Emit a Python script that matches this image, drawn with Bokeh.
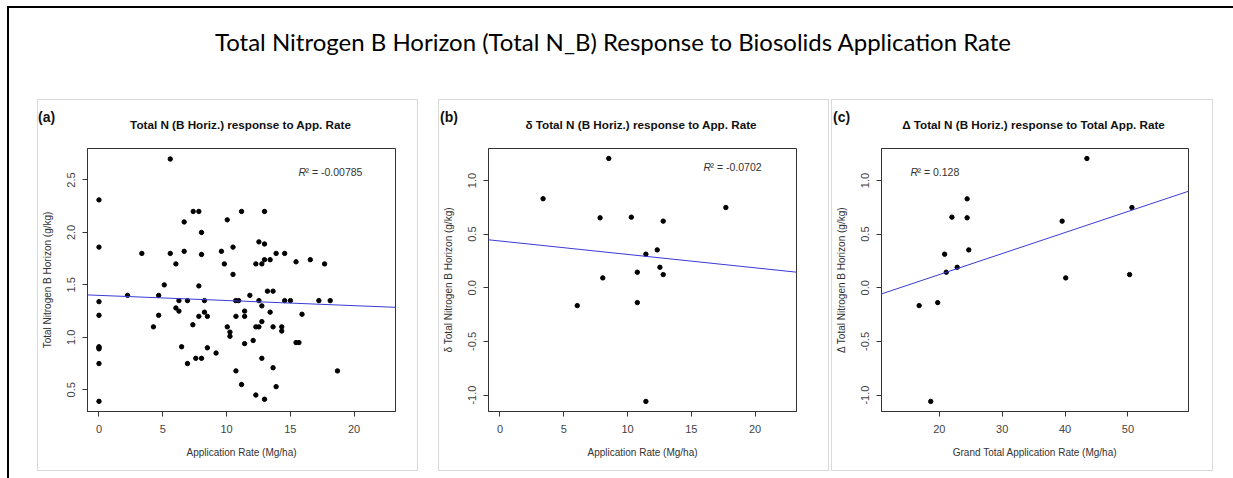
from bokeh.plotting import figure
from bokeh.models import (Range1d, FixedTicker, PrintfTickFormatter, Slope, Label,
                          Div, Spacer)
from bokeh.layouts import row, column
from bokeh.embed import file_html
from bokeh.resources import INLINE

# ---------------- data ----------------
main_title = "Total Nitrogen B Horizon (Total N_B) Response to Biosolids Application Rate"

# panel (a): Total N (B horizon) vs application rate
a_rate = [0, 0, 0, 0, 0, 0, 0, 0, 0,
          2.24, 3.36, 4.27, 4.68, 4.68, 5.12, 5.59, 5.59, 6.03, 6.03, 6.27, 6.27, 6.48,
          6.68, 6.68, 6.94, 6.94, 7.36, 7.39, 7.59, 7.83, 7.83, 7.83, 8.04, 8.04, 8.04,
          8.27, 8.27, 8.50, 8.50, 9.18, 9.60, 9.83, 10.06, 10.06, 10.27, 10.27, 10.51,
          10.51, 10.72, 10.74, 10.74, 10.95, 11.18, 11.18, 11.42, 11.42, 11.42, 11.83,
          12.09, 12.30, 12.30, 12.30, 12.54, 12.54, 12.54, 12.77, 12.77, 12.77, 12.77,
          12.98, 12.98, 12.98, 12.98, 13.21, 13.42, 13.42, 13.65, 13.65, 13.65, 13.89,
          13.89, 14.33, 14.33, 14.56, 14.56, 15.01, 15.45, 15.45, 15.68, 15.92, 16.57,
          17.24, 17.69, 18.13, 18.70]
a_totn = [2.31, 1.86, 1.34, 1.21, 0.91, 0.90, 0.89, 0.75, 0.39,
          1.40, 1.80, 1.10, 1.40, 1.21, 1.50, 2.70, 1.80, 1.70, 1.28, 1.25, 1.35, 0.91,
          2.10, 1.82, 1.35, 0.75, 1.12, 2.20, 0.80, 2.20, 1.49, 1.20, 2.00, 1.79, 0.80,
          1.35, 1.24, 1.20, 0.90, 0.85, 1.82, 1.70, 2.12, 1.10, 1.05, 1.01, 1.86,
          1.60, 1.35, 1.20, 0.68, 1.35, 2.20, 0.55, 1.25, 1.20, 0.94, 1.40,
          0.97, 1.70, 1.10, 0.45, 1.91, 1.35, 1.10, 1.70, 1.30, 1.15, 0.80,
          2.20, 1.89, 1.74, 0.41, 1.44, 1.74, 1.24, 1.44, 1.10, 0.71, 1.80,
          0.53, 1.10, 1.06, 1.80, 1.35, 1.35, 1.72, 0.95, 0.95, 1.22, 1.74,
          1.35, 1.70, 1.35, 0.68]

# panel (b): delta Total N vs application rate
b_rate = [3.38, 8.53, 7.85, 10.30, 12.80, 17.71, 12.33, 11.44, 12.54, 10.77, 12.80,
          8.06, 6.06, 10.77, 11.44]
b_dtotn = [0.83, 1.205, 0.652, 0.658, 0.621, 0.748, 0.353, 0.313, 0.191, 0.145, 0.123,
           0.092, -0.166, -0.138, -1.059]

# panel (c): Delta Total N vs grand total application rate
c_total = [43.47, 24.42, 22.00, 24.42, 50.63, 39.53, 24.68, 20.84, 22.84, 21.10, 50.26,
           40.10, 16.79, 19.74, 18.63]
c_dtotn = [1.205, 0.829, 0.658, 0.652, 0.748, 0.621, 0.353, 0.313, 0.191, 0.145, 0.123,
           0.092, -0.166, -0.138, -1.059]

# fitted lines (intercept, slope) and R^2 text
fit_a = (1.40, -0.0049)
fit_b = (0.436, -0.0125)
fit_c = (-0.269, 0.0196)
r2_a = "-0.00785"
r2_b = "-0.0702"
r2_c = "0.128"

ticks_rate = [0, 5, 10, 15, 20]
ticks_total = [20, 30, 40, 50]
ticks_a_y = [0.5, 1.0, 1.5, 2.0, 2.5]
ticks_d_y = [-1.0, -0.5, 0.0, 0.5, 1.0]

FONT = "Liberation Sans"
PANEL_H = 372      # grey panel box height
HEAD_H = 46        # panel header (tag + title), inside 1px grey border
FIG_H = PANEL_H - HEAD_H - 2
TOP, BOTTOM = 2, 59

G = "linear-gradient(#d9d9d9,#d9d9d9)"
BOX_BG = ("%s left top / 1px 100%% no-repeat, %s right top / 1px 100%% no-repeat, "
          "%s left top / 100%% 1px no-repeat, %s left bottom / 100%% 1px no-repeat, #ffffff"
          % (G, G, G, G))


def make_panel(width, left, right, xs, ys, xr, yr, xticks, yticks, xlabel, ylabel,
               title, tag, tag_left, r2, r2_x, r2_y, fit):
    p = figure(width=width - 2, height=FIG_H, x_range=Range1d(*xr), y_range=Range1d(*yr),
               output_backend="svg", toolbar_location=None, title=None,
               min_border_left=left - 1, min_border_right=right - 1,
               min_border_top=TOP, min_border_bottom=BOTTOM, margin=(0, 1, 1, 1))
    p.outline_line_color = "#333333"
    p.outline_line_width = 1
    p.grid.visible = False
    p.background_fill_color = "white"
    p.border_fill_color = "white"

    p.xaxis.ticker = FixedTicker(ticks=xticks)
    p.yaxis.ticker = FixedTicker(ticks=yticks)
    p.yaxis.formatter = PrintfTickFormatter(format="%.1f")
    p.xaxis.axis_label = xlabel
    p.yaxis.axis_label = ylabel
    for ax in list(p.xaxis) + list(p.yaxis):
        ax.major_tick_out = 5
        ax.major_tick_in = 0
        ax.minor_tick_out = 0
        ax.minor_tick_in = 0
        ax.axis_line_color = "#333333"
        ax.major_tick_line_color = "#333333"
        ax.major_label_text_font = FONT
        ax.major_label_text_font_size = "11px"
        ax.major_label_text_color = "#444444"
        ax.axis_label_text_font = FONT
        ax.axis_label_text_font_size = "10px"
        ax.axis_label_text_font_style = "normal"
        ax.axis_label_text_color = "#333333"
    p.xaxis.major_label_standoff = 8
    p.xaxis.axis_label_standoff = 11
    p.yaxis.major_label_standoff = 7
    p.yaxis.axis_label_standoff = 12
    p.yaxis.major_label_orientation = "vertical"

    p.scatter(xs, ys, size=4.4, color="black")
    p.add_layout(Slope(gradient=fit[1], y_intercept=fit[0], line_color="#3a3ad6",
                       line_width=1))

    p.add_layout(Label(x=r2_x, y=r2_y, x_units="screen", y_units="screen",
                       text="R", text_align="left", text_baseline="middle",
                       text_font=FONT, text_font_size="10.5px", text_font_style="italic",
                       text_color="#333333"))
    p.add_layout(Label(x=r2_x + 7, y=r2_y, x_units="screen", y_units="screen",
                       text="\u00b2 = " + r2, text_align="left", text_baseline="middle",
                       text_font=FONT, text_font_size="10.5px",
                       text_color="#333333"))

    fw = width - left - right
    head = Div(
        text=('<div style="position:relative;width:%dpx;height:%dpx;'
              'font-family:\'Liberation Sans\',Arial,sans-serif;color:#111;">'
              '<div style="position:absolute;left:%dpx;top:10px;font-size:14px;'
              'font-weight:bold;line-height:14px;white-space:nowrap;">%s</div>'
              '<div style="position:absolute;left:%dpx;width:%dpx;top:19px;'
              'text-align:center;font-size:11.7px;font-weight:bold;line-height:12px;'
              'white-space:nowrap;">%s</div></div>')
        % (width - 2, HEAD_H, tag_left, tag, left - 1, fw, title),
        width=width - 2, height=HEAD_H, margin=(1, 1, 0, 1))
    return column([head, p], spacing=0, width=width, height=PANEL_H,
                  styles={"background": BOX_BG})


pa = make_panel(381, 49, 23, a_rate, a_totn, (-0.9, 23.25), (0.293, 2.80),
                ticks_rate, ticks_a_y, "Application Rate (Mg/ha)",
                "Total Nitrogen B Horizon (g/kg)",
                "Total N (B Horiz.) response to App. Rate", "(a)", 0,
                r2_a, 211, 240, fit_a)
pb = make_panel(391, 48, 33, b_rate, b_dtotn, (-0.9, 23.25), (-1.153, 1.298),
                ticks_rate, ticks_d_y, "Application Rate (Mg/ha)",
                "\u03b4 Total Nitrogen B Horizon (g/kg)",
                "\u03b4 Total N (B Horiz.) response to App. Rate", "(b)", 1,
                r2_b, 215, 245, fit_b)
pc = make_panel(382, 48, 25, c_total, c_dtotn, (10.8, 59.63), (-1.153, 1.298),
                ticks_total, ticks_d_y, "Grand Total Application Rate (Mg/ha)",
                "\u0394 Total Nitrogen B Horizon (g/kg)",
                "\u0394 Total N (B Horiz.) response to Total App. Rate", "(c)", 1,
                r2_c, 29, 240, fit_c)

# slide frame: black top/left rules and the main title
header = Div(
    text=('<div style="position:relative;width:1226px;height:93px;overflow:hidden;'
          'box-sizing:border-box;border-left:2px solid #000;border-top:2px solid #000;">'
          '<div style="position:absolute;left:0;top:22px;width:1208px;text-align:center;'
          'font-family:Lato;font-size:24px;line-height:24px;color:#000;'
          'white-space:nowrap;">' + main_title + '</div></div>'),
    width=1226, height=93, margin=(6, 0, 0, 7), styles={"overflow": "hidden"})

left_strip = Div(
    text='<div style="margin-left:7px;width:2px;height:379px;background:#000;"></div>',
    width=37, height=379, margin=(0, 0, 0, 0), styles={"overflow": "hidden"})

panels = row([left_strip, pa, Spacer(width=20, height=379), pb,
              Spacer(width=2, height=379), pc, Spacer(width=20, height=379)], spacing=0)
layout = column([header, panels], spacing=0)

page_css = """
{% block postamble %}
<style>html, body { margin: 0; padding: 0; overflow: hidden; }</style>
{% endblock %}
"""

open("out.html", "w").write(file_html(layout, INLINE, template=page_css))
